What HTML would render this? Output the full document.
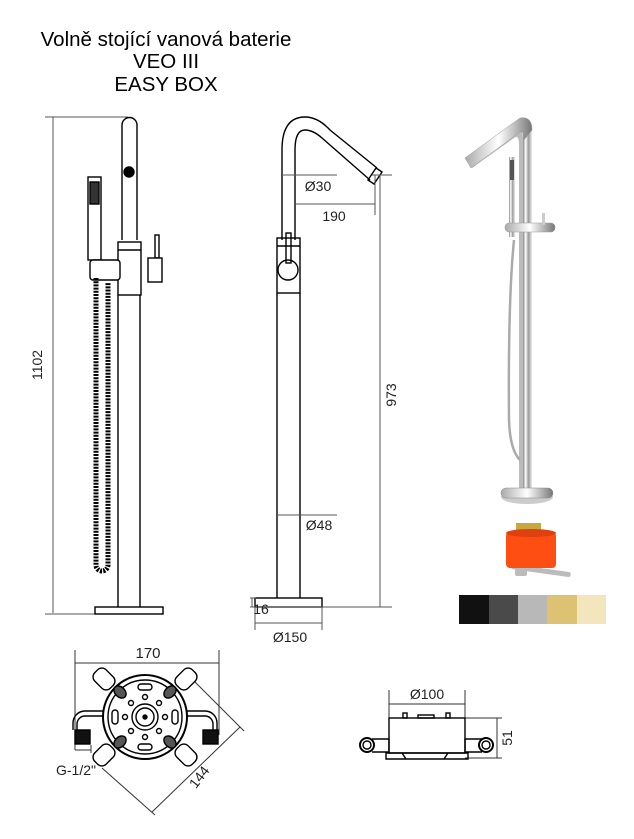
<!DOCTYPE html><html><head><style>body{margin:0;background:#fff}svg{display:block}</style></head><body>
<svg width="634" height="839" viewBox="0 0 634 839" xmlns="http://www.w3.org/2000/svg" font-family="Liberation Sans, sans-serif">
<defs>
<linearGradient id="ch" x1="0" x2="1"><stop offset="0" stop-color="#888"/><stop offset=".3" stop-color="#fff"/><stop offset=".6" stop-color="#999"/><stop offset="1" stop-color="#eee"/></linearGradient>
<linearGradient id="bs" x1="0" x2="1"><stop offset="0" stop-color="#aaa"/><stop offset=".5" stop-color="#fff"/><stop offset="1" stop-color="#777"/></linearGradient>
</defs>
<g font-size="20.5" text-anchor="middle" fill="#000">
<text x="166" y="46">Volně stojící vanová baterie</text>
<text x="166" y="68">VEO III</text>
<text x="166" y="91">EASY BOX</text>
</g>
<g stroke="#000" fill="none" stroke-width="1.4">
<g stroke="#555" stroke-width="1"><line x1="53" y1="117" x2="53" y2="613"/><line x1="45" y1="117" x2="128" y2="117"/><line x1="45" y1="614" x2="96" y2="614"/></g>
<path d="M122 240 V125 a7.5 7.5 0 0 1 15 0 V240"/>
<circle cx="129" cy="172" r="5" fill="#000"/>
<rect x="118" y="242" width="23" height="53" fill="#fff"/>
<line x1="118" y1="250" x2="141" y2="250"/>
<line x1="118" y1="607" x2="118" y2="295"/><line x1="140" y1="607" x2="140" y2="295"/>
<rect x="95" y="607" width="68" height="7"/>
<rect x="155" y="235" width="4" height="23"/>
<rect x="148" y="258" width="14" height="24" fill="#fff"/>
<rect x="88" y="177" width="13" height="83"/>
<rect x="90" y="182" width="9" height="22" fill="#333"/>
<rect x="90" y="260" width="30" height="20" rx="3" fill="#fff"/>
<path d="M96 278 V565 a6 6 0 0 0 12 0 V282" stroke-width="5" stroke-dasharray="2 1.2"/>
<path d="M282 240 V150 Q282 117 305 117 Q318 117 330 130 L377 168"/>
<path d="M295 240 V150 Q295 130 305 130 Q313 130 322 138 L370 180"/>
<path d="M368 180 l8 -12 l6 4 l-8 12z"/>
<rect x="277" y="238" width="23" height="55"/>
<line x1="277" y1="246" x2="300" y2="246"/>
<rect x="286" y="233" width="5" height="30"/>
<circle cx="288" cy="270" r="10"/>
<line x1="277" y1="293" x2="277" y2="598"/><line x1="300" y1="293" x2="300" y2="598"/>
<rect x="255" y="598" width="67" height="9"/>
<g stroke="#555" stroke-width="1">
<line x1="380" y1="175" x2="380" y2="607"/><line x1="372" y1="175" x2="392" y2="175"/><line x1="250" y1="607" x2="392" y2="607"/>
<line x1="282" y1="175" x2="337" y2="175"/><line x1="295" y1="204" x2="375" y2="204"/><line x1="375" y1="175" x2="375" y2="215"/>
<line x1="277" y1="515" x2="337" y2="515"/><line x1="255" y1="623" x2="322" y2="623"/><line x1="255" y1="607" x2="255" y2="630"/><line x1="322" y1="607" x2="322" y2="630"/>
<line x1="250" y1="598" x2="256" y2="598"/><line x1="252" y1="598" x2="252" y2="607"/>
</g>
<g stroke="#333" stroke-width="1">
<line x1="75" y1="650" x2="75" y2="750"/><line x1="219" y1="650" x2="219" y2="735"/><line x1="75" y1="663" x2="219" y2="663"/>
<line x1="75" y1="750" x2="91" y2="750"/><line x1="91" y1="745" x2="91" y2="753"/>
<line x1="193" y1="680" x2="244" y2="731"/><line x1="102" y1="768" x2="155" y2="815"/><line x1="240" y1="727" x2="152" y2="812"/>
</g>
<g transform="translate(145 717)">
<g fill="#fff">
<rect x="-49" y="-49" width="16" height="22" rx="6" transform="rotate(-45 -41 -38)"/>
<rect x="33" y="-49" width="16" height="22" rx="6" transform="rotate(45 41 -38)"/>
<rect x="-49" y="27" width="16" height="22" rx="6" transform="rotate(45 -41 38)"/>
<rect x="33" y="27" width="16" height="22" rx="6" transform="rotate(-45 41 38)"/>
</g>
<path d="M-40 -1 H-60 a8 8 0 0 0 -8 8 V13 M60 -1 a8 8 0 0 1 8 8 V13 M40 -1 H60 M40 -6 H60 a12 12 0 0 1 12 12 V13 M-40 -6 H-60 a12 12 0 0 0 -12 12 V13"/>
<rect x="-70" y="13" width="15" height="14" fill="#111"/><rect x="58" y="13" width="15" height="14" fill="#111"/>
<circle r="42" fill="#fff" stroke-width="2"/><circle r="37"/>
<circle r="13"/><circle r="9"/><circle r="2" fill="#000"/>
<g fill="#555"><ellipse cx="-25" cy="-25" rx="5" ry="7" transform="rotate(-45 -25 -25)"/><ellipse cx="25" cy="-25" rx="5" ry="7" transform="rotate(45 25 -25)"/><ellipse cx="-25" cy="25" rx="5" ry="7" transform="rotate(45 -25 25)"/><ellipse cx="25" cy="25" rx="5" ry="7" transform="rotate(-45 25 25)"/></g>
<rect x="-7" y="-33" width="14" height="6" rx="3"/><rect x="-7" y="27" width="14" height="6" rx="3"/>
<rect x="-33" y="-7" width="6" height="14" rx="3"/><rect x="27" y="-7" width="6" height="14" rx="3"/>
<circle cx="0" cy="-20" r="2.5"/><circle cx="0" cy="20" r="2.5"/><circle cx="-20" cy="0" r="2.5"/><circle cx="20" cy="0" r="2.5"/>
<circle cx="-14" cy="-14" r="2.5"/><circle cx="14" cy="-14" r="2.5"/><circle cx="-14" cy="14" r="2.5"/><circle cx="14" cy="14" r="2.5"/>
</g>
<g stroke="#333" stroke-width="1"><line x1="389" y1="690" x2="389" y2="718"/><line x1="465" y1="690" x2="465" y2="718"/><line x1="389" y1="704" x2="465" y2="704"/>
<line x1="465" y1="718" x2="502" y2="718"/><line x1="465" y1="758" x2="502" y2="758"/><line x1="497" y1="718" x2="497" y2="758"/></g>
<rect x="389" y="718" width="76" height="35"/>
<path d="M386 753 H468 V759 H386Z M402 753 l4 6 M448 753 l-4 6"/>
<rect x="403" y="713" width="4" height="5"/><rect x="446" y="713" width="4" height="5"/><rect x="418" y="715" width="16" height="3"/>
<path d="M372 739 H389 V752 H372 M482 739 H465 V752 H482"/>
<circle cx="367" cy="745" r="7" fill="#fff" stroke-width="2"/><circle cx="367" cy="745" r="4"/>
<circle cx="486" cy="745" r="7" fill="#fff" stroke-width="2"/><circle cx="486" cy="745" r="4"/>
</g>
<g font-size="14" fill="#222" text-anchor="middle" font-family="Liberation Sans Narrow, Liberation Sans, sans-serif">
<text transform="translate(42 365) rotate(-90)">1102</text>
<text x="318" y="191">Ø30</text><text x="334" y="221">190</text>
<text transform="translate(396 395) rotate(-90)">973</text>
<text x="319" y="530">Ø48</text><text x="261" y="614">16</text><text x="290" y="642">Ø150</text>
<text x="148" y="658" font-size="15">170</text>
<text x="76" y="775">G-1/2"</text>
<text transform="translate(203 780) rotate(-52)">144</text>
<text x="427" y="699">Ø100</text>
<text transform="translate(512 738) rotate(-90)">51</text>
</g>
<g>
<path d="M523 495 V140 Q523 122 516 128 L467 160 L472 168 L514 138 Q519 134 519 145 V495Z" fill="#bbb"/>
<rect x="523" y="128" width="9" height="367" fill="url(#ch)"/>
<path d="M532 130 Q532 116 520 118 L465 158 L471 168 L520 132 Q524 130 524 140Z" fill="url(#bs)" stroke="#999" stroke-width=".5"/>
<rect x="509" y="157" width="6" height="80" fill="url(#ch)"/>
<rect x="510" y="160" width="4" height="20" fill="#555"/>
<rect x="505" y="223" width="50" height="9" rx="4" fill="url(#bs)" stroke="#999" stroke-width=".5"/>
<rect x="542" y="213" width="3" height="12" fill="#ccc"/>
<path d="M514 240 Q508 300 509 420 Q510 450 520 460" stroke="#aaa" stroke-width="2.5" fill="none"/>
<ellipse cx="527" cy="497" rx="26" ry="7" fill="#ccc"/>
<rect x="501" y="488" width="52" height="10" rx="5" fill="url(#bs)" stroke="#888" stroke-width=".5"/>
<rect x="516" y="523" width="25" height="10" fill="#c9a640"/>
<rect x="511" y="568" width="60" height="5" rx="2" fill="#bbb" transform="rotate(8 540 570)"/>
<rect x="506" y="532" width="50" height="36" rx="4" fill="#ff4e12"/>
<ellipse cx="531" cy="533" rx="25" ry="4" fill="#e04010"/>
<rect x="515" y="568" width="12" height="8" rx="2" fill="#bbb"/>
<rect x="459" y="595" width="30" height="29" fill="#111"/>
<rect x="489" y="595" width="29" height="29" fill="#4a4a4a"/>
<rect x="518" y="595" width="29" height="29" fill="#b8b8b8"/>
<rect x="547" y="595" width="30" height="29" fill="#ddc274"/>
<rect x="577" y="595" width="29" height="29" fill="#f4e6bc"/>
</g>
</svg></body></html>
